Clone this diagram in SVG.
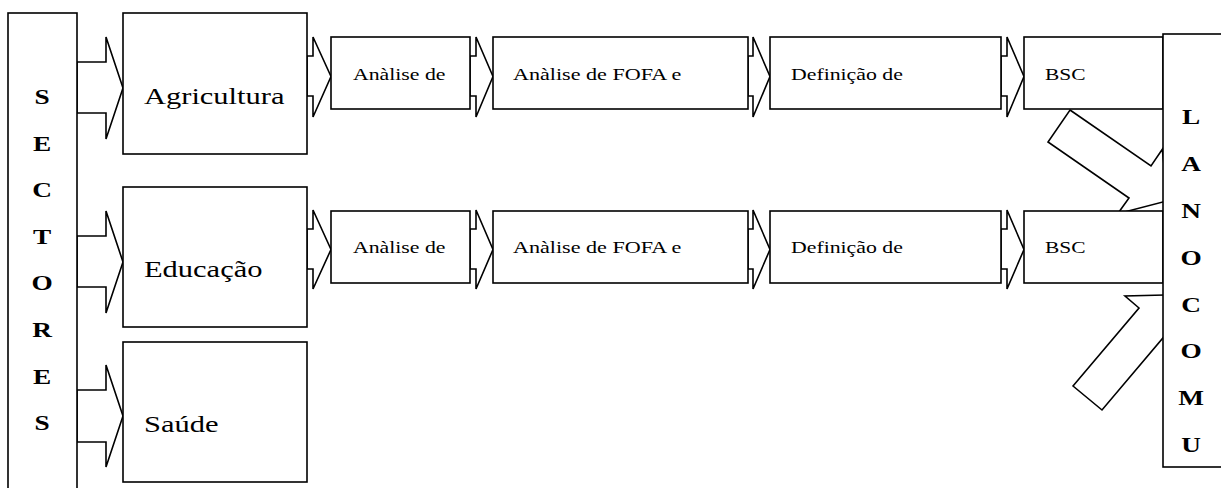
<svg xmlns="http://www.w3.org/2000/svg" width="1221" height="488" viewBox="0 0 1221 488">
  <style>
    .box { fill: #ffffff; stroke: #000000; stroke-width: 1.6; }
    .arrow { fill: #ffffff; stroke: #000000; stroke-width: 1.6; stroke-linejoin: miter; }
    text { font-family: "Liberation Serif", "Times New Roman", Times, serif; fill: #000000; }
    .big { font-size: 24px; }
    .small { font-size: 16.5px; }
    .letter { font-size: 21px; font-weight: bold; text-anchor: middle; }
  </style>
  <rect x="0" y="0" width="1221" height="488" fill="#ffffff"/>

  <!-- block arrows linking the boxes -->
  <g id="connectors">
    <!-- sectors column to each sector -->
    <polygon class="arrow" points="77,62 106,62 106,37 123,88 106,139 106,113 77,113"/>
    <polygon class="arrow" points="77,236 106,236 106,211 123,262 106,313 106,287 77,287"/>
    <polygon class="arrow" points="77,390 106,390 106,365 123,416 106,467 106,442 77,442"/>
    <!-- agriculture chain -->
    <polygon class="arrow" points="307,56 313,56 313,37 331,76.5 313,117 313,96 307,96"/>
    <polygon class="arrow" points="470,56 476,56 476,37 493,76.5 476,117 476,96 470,96"/>
    <polygon class="arrow" points="748,56 753,56 753,37 770,76.5 753,117 753,96 748,96"/>
    <polygon class="arrow" points="1001,56 1007,56 1007,37 1024,76.5 1007,117 1007,96 1001,96"/>
    <!-- education chain -->
    <polygon class="arrow" points="307,229 313,229 313,210 331,249.5 313,289 313,269 307,269"/>
    <polygon class="arrow" points="470,229 476,229 476,210 493,249.5 476,289 476,269 470,269"/>
    <polygon class="arrow" points="748,229 753,229 753,210 770,249.5 753,289 753,269 748,269"/>
    <polygon class="arrow" points="1001,229 1007,229 1007,210 1024,249.5 1007,289 1007,269 1001,269"/>
    <!-- diagonal arrows into the plan column -->
    <polygon class="arrow" points="1070,110 1151,166 1162.3,149.3 1167.8,200.7 1117.7,213.7 1129,198 1048,142"/>
    <polygon class="arrow" points="1073,386 1139,308 1125,296 1175,294.7 1182,344.1 1168,332 1102,410"/>
  </g>

  <g id="sectores">
    <rect class="box" x="8" y="13" width="69" height="500"/>
    <g transform="translate(42,0) scale(1.3,1)">
      <text class="letter" x="0" y="104">S</text>
      <text class="letter" x="0" y="150.6">E</text>
      <text class="letter" x="0" y="197.1">C</text>
      <text class="letter" x="0" y="243.7">T</text>
      <text class="letter" x="0" y="290.3">O</text>
      <text class="letter" x="0" y="337">R</text>
      <text class="letter" x="0" y="383.6">E</text>
      <text class="letter" x="0" y="430.1">S</text>
    </g>
  </g>

  <g id="agricultura">
    <rect class="box" x="123" y="13" width="184" height="141"/>
    <text class="big" transform="translate(144,104) scale(1.27,1)">Agricultura</text>
  </g>
  <g id="educacao">
    <rect class="box" x="123" y="187" width="184" height="140"/>
    <text class="big" transform="translate(144,277) scale(1.27,1)">Educação</text>
  </g>
  <g id="saude">
    <rect class="box" x="123" y="342" width="184" height="140"/>
    <text class="big" transform="translate(144,432) scale(1.27,1)">Saúde</text>
  </g>

  <g id="agr-analise">
    <rect class="box" x="331" y="37" width="139" height="72"/>
    <text class="small" transform="translate(353,80) scale(1.32,1)">Anàlise de</text>
  </g>
  <g id="agr-fofa">
    <rect class="box" x="493" y="37" width="255" height="72"/>
    <text class="small" transform="translate(513,80) scale(1.34,1)">Anàlise de FOFA e</text>
  </g>
  <g id="agr-definicao">
    <rect class="box" x="770" y="37" width="231" height="72"/>
    <text class="small" transform="translate(791,80) scale(1.32,1)">Definição de</text>
  </g>
  <g id="agr-bsc">
    <rect class="box" x="1024" y="37" width="139" height="72"/>
    <text class="small" transform="translate(1045,80) scale(1.3,1)">BSC</text>
  </g>

  <g id="edu-analise">
    <rect class="box" x="331" y="211" width="139" height="72"/>
    <text class="small" transform="translate(353,253) scale(1.32,1)">Anàlise de</text>
  </g>
  <g id="edu-fofa">
    <rect class="box" x="493" y="211" width="255" height="72"/>
    <text class="small" transform="translate(513,253) scale(1.34,1)">Anàlise de FOFA e</text>
  </g>
  <g id="edu-definicao">
    <rect class="box" x="770" y="211" width="231" height="72"/>
    <text class="small" transform="translate(791,253) scale(1.32,1)">Definição de</text>
  </g>
  <g id="edu-bsc">
    <rect class="box" x="1024" y="211" width="139" height="72"/>
    <text class="small" transform="translate(1045,253) scale(1.3,1)">BSC</text>
  </g>

  <g id="lanocomu">
    <rect class="box" x="1163" y="34" width="80" height="433"/>
    <g transform="translate(1191,0) scale(1.3,1)">
      <text class="letter" x="0" y="124">L</text>
      <text class="letter" x="0" y="171">A</text>
      <text class="letter" x="0" y="218">N</text>
      <text class="letter" x="0" y="265">O</text>
      <text class="letter" x="0" y="312">C</text>
      <text class="letter" x="0" y="358">O</text>
      <text class="letter" x="0" y="405">M</text>
      <text class="letter" x="0" y="452">U</text>
    </g>
  </g>
</svg>
